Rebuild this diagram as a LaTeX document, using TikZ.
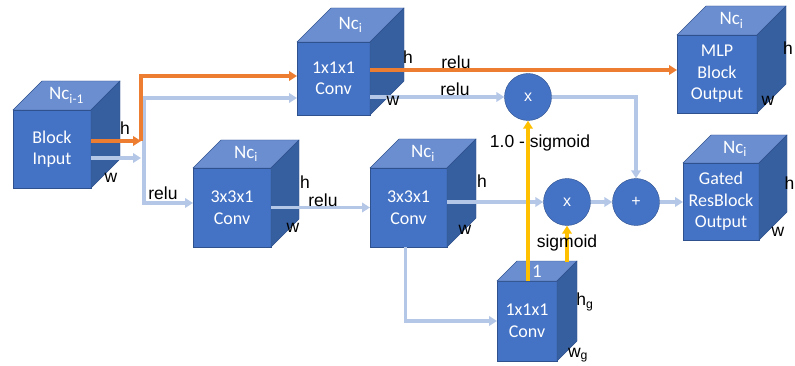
\documentclass[tikz,border=0pt]{standalone}
\usepackage{fontspec}
\setmainfont{Liberation Sans}
\newfontfamily\cubefont{Carlito}
\usetikzlibrary{arrows.meta,calc}
\definecolor{cfront}{HTML}{4472C4}
\definecolor{ctop}{HTML}{6A8ED0}
\definecolor{cside}{HTML}{365F9F}
\definecolor{cedge}{HTML}{2F528F}
\definecolor{corange}{HTML}{ED7D31}
\definecolor{clblue}{HTML}{B4C7E7}
\definecolor{cyellow}{HTML}{FFC000}
\tikzset{
 front/.style={fill=cfront, draw=cedge, line width=0.4pt, inner sep=0pt, outer sep=0pt, text=white, align=center, font=\cubefont\fontsize{18}{21.5}\selectfont},
 topface/.style={fill=ctop, draw=cedge, line width=0.4pt},
 sideface/.style={fill=cside, draw=cedge, line width=0.4pt},
 toplabel/.style={text=white, font=\cubefont\fontsize{19}{22}\selectfont, inner sep=0pt},
 lbl/.style={font=\fontsize{17.5}{20}\selectfont, inner sep=0pt, text=black},
 op/.style={circle, fill=cfront, draw=cedge, line width=0.4pt, minimum size=47pt, inner sep=0pt, text=white, font=\fontsize{16}{18}\selectfont},
 orangearrow/.style={draw=corange, line width=3.2pt, -{Triangle[length=8pt,width=9.5pt]}},
 bluearrow/.style={draw=clblue, line width=3.2pt, -{Triangle[length=8pt,width=9.5pt]}},
 yellowarrow/.style={draw=cyellow, line width=3.2pt, -{Triangle[length=8pt,width=9.5pt]}},
}
% name, cx, cy, w, h, depth, text, toptext
\newcommand{\mycube}[8]{%
  \node[front, minimum width=#4pt, minimum height=#5pt] (#1) at (#2,#3) {#7};
  \filldraw[topface] (#1.north west) -- ++(#6,-#6) -- ++(#4,0) -- (#1.north east) -- cycle;
  \filldraw[sideface] (#1.north east) -- ++(#6,-#6) -- ++(0,#5) -- (#1.south east) -- cycle;
  \node[toplabel] (#1-top) at ($(#1.north)+(#6/2,-#6/2)$) {#8};
}
\begin{document}
\begin{tikzpicture}[x=1pt,y=-1pt]
\useasboundingbox (0,0) rectangle (795,366);
\fill[white] (0,0) rectangle (795,366);

\mycube{bin}{52}{149}{78}{78}{29}{Block\\Input}{Nc\textsubscript{i-1}}
\mycube{c1}{333.5}{78.5}{73}{73}{34}{1x1x1\\Conv}{Nc\textsubscript{i}}
\mycube{mlp}{717}{74}{80}{78}{29}{MLP\\Block\\Output}{Nc\textsubscript{i}}
\mycube{c3a}{232}{207.5}{78}{79}{28}{3x3x1\\Conv}{Nc\textsubscript{i}}
\mycube{c3b}{408.5}{207.5}{77}{79}{29}{3x3x1\\Conv}{Nc\textsubscript{i}}
\mycube{gated}{721}{201.5}{76}{77}{28}{Gated\\ResBlock\\Output}{Nc\textsubscript{i}}
\mycube{cb}{527}{321}{60}{80}{20}{1x1x1\\Conv}{1}

\node[op] (mx1) at (528,97) {x};
\node[op] (mx2) at (567,202) {x};
\node[op] (plus) at (636,202) {+};

\coordinate (jo) at (141,141);
\coordinate (jb) at (144,158);
\coordinate (cbtop) at ($(cb.north)+(0,-19)$);

% light blue connectors
\draw[bluearrow] (bin.east |- jb) -- ([xshift=-3pt]jb);
\draw[bluearrow] (jb) |- (c1.west |- 0,98);
\draw[bluearrow] (jb) |- (c3a.west |- 0,203);
\draw[bluearrow] (c1.east |- mx1.west) -- (mx1.west);
\draw[bluearrow] (mx1.east) -| (plus.north);
\draw[bluearrow] (c3a.east) -- (c3b.west);
\draw[bluearrow] (c3b.east |- mx2.west) -- (mx2.west);
\draw[bluearrow] ([xshift=-3pt]c3b.south) |- (cb.west);
\draw[bluearrow] (mx2.east) -- (plus.west);
\draw[bluearrow] (plus.east) -- (gated.west |- plus.east);

% orange connectors
\draw[orangearrow] (bin.east |- jo) -- (jo);
\draw[orangearrow] (jo) |- (c1.west |- 0,76);
\draw[orangearrow] (c1.east |- 0,70) -- (mlp.west |- 0,70);

% yellow connectors
\draw[yellowarrow] (cb.north -| mx1) -- (mx1.south);
\draw[yellowarrow] (cbtop -| mx2) -- (mx2.south);

% labels
\node[lbl] at (125,128) {h};
\node[lbl] at (111,178) {w};
\node[lbl] at (408,57) {h};
\node[lbl] at (393,101) {w};
\node[lbl] at (456,62) {relu};
\node[lbl] at (455,89) {relu};
\node[lbl] at (788,48) {h};
\node[lbl] at (768,101) {w};
\node[lbl] at (163,193) {relu};
\node[lbl] at (305,182) {h};
\node[lbl] at (293,228) {w};
\node[lbl] at (323,200) {relu};
\node[lbl] at (482,181) {h};
\node[lbl] at (465,230) {w};
\node[lbl] at (540,143) {1.0 - sigmoid};
\node[lbl] at (567,243) {sigmoid};
\node[lbl] at (789.5,183) {h};
\node[lbl] at (778,232) {w};
\node[lbl] at (585,302) {h\textsubscript{g}};
\node[lbl] at (578,355) {w\textsubscript{g}};
\end{tikzpicture}
\end{document}
